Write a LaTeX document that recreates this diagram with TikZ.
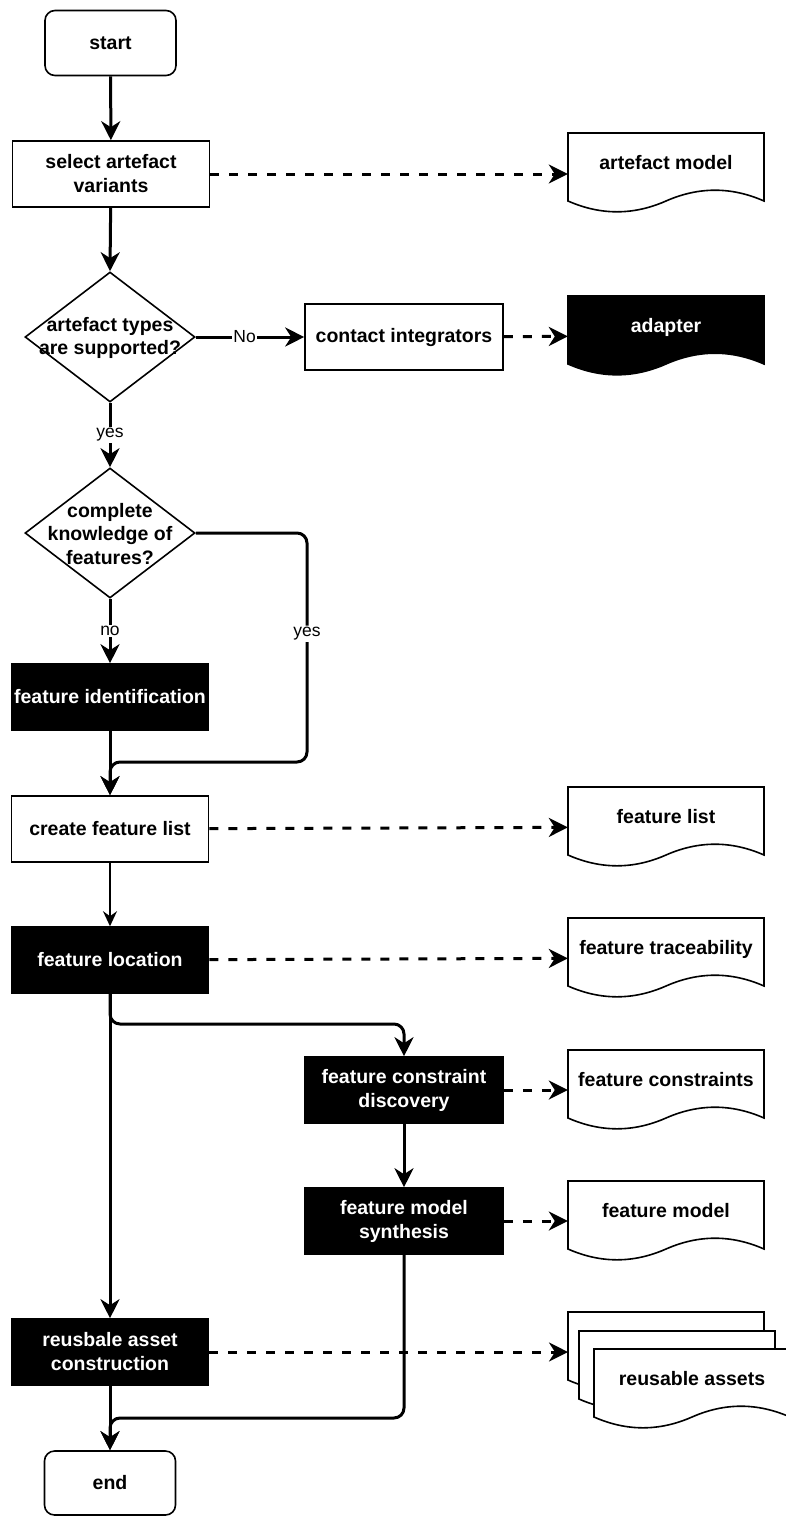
\documentclass[tikz,border=0pt]{standalone}
\usepackage{fontspec}
\setmainfont{Liberation Sans}
\usetikzlibrary{arrows.meta,shapes.geometric}

\newcommand\docshape[3]{%
  \path[#1] ({#2-98},{#3-40}) -- ({#2+98},{#3-40}) -- ({#2+98},{#3+28})
    .. controls ({#2+65.3},{#3+13.6}) and ({#2+32.7},{#3+13.6}) .. (#2,{#3+28})
    .. controls ({#2-32.7},{#3+42.4}) and ({#2-65.3},{#3+42.4}) .. ({#2-98},{#3+28}) -- cycle;}

\tikzset{
  bfont/.style={font=\fontsize{19.5}{24}\selectfont\bfseries},
  base/.style={draw, line width=1.6pt, minimum width=197pt, minimum height=66pt,
    inner sep=2pt, align=center, bfont},
  proc/.style={base, rectangle},
  dark/.style={base, rectangle, fill=black, text=white},
  term/.style={base, rectangle, rounded corners=10pt, minimum width=131pt, minimum height=65pt},
  decision/.style={diamond, draw, line width=1.6pt, minimum width=170pt,
    minimum height=130pt, inner sep=0pt},
  dtext/.style={align=center, inner sep=0pt, font=\fontsize{19.5}{23.5}\selectfont\bfseries},
  docnode/.style={rectangle, minimum width=196pt, minimum height=80pt, inner sep=0pt,
    align=center, bfont, text height=15pt, text depth=23pt},
  docline/.style={draw, line width=1.6pt, fill=white},
  flow/.style={line width=3pt, -{Stealth[length=19pt,width=19pt,inset=6pt]}},
  thinflow/.style={line width=1.5pt, -{Stealth[length=15pt,width=14pt,inset=5pt]}},
  dataflow/.style={flow, dash pattern=on 9pt off 10pt},
  lbl/.style={fill=white, inner sep=1.5pt, font=\fontsize{17.5}{20}\selectfont},
}

\begin{document}
\begin{tikzpicture}[x=1pt, y=-1pt]
\useasboundingbox (0,0) rectangle (786,1516);

% main column
\node[term] (start) at (110.5,43) {start};
\node[proc] (sel) at (111,174) {select artefact\\variants};
\node[decision] (d1) at (110,337) {};
\node[dtext] (d1t) at (110,338) {artefact types\\are supported?};
\node[proc, minimum width=198pt] (ci) at (404,337) {contact integrators};
\node[decision] (d2) at (110,533) {};
\node[dtext] (d2t) at (110,534) {complete\\knowledge of\\features?};
\node[dark] (fi) at (110,697) {feature identification};
\node[proc] (cfl) at (110,829) {create feature list};
\node[dark] (fle) at (110,960) {feature location};
\node[dark, minimum width=198pt] (fcd) at (404,1090) {feature constraint\\discovery};
\node[dark, minimum width=198pt] (fms) at (404,1221) {feature model\\synthesis};
\node[dark] (rac) at (110,1352) {reusbale asset\\construction};
\node[term, minimum height=64pt] (stop) at (110,1483) {end};

% documents
\docshape{docline}{666}{173}
\node[docnode] (am) at (666,173) {artefact model};
\docshape{docline, fill=black}{666}{336}
\node[docnode, text=white] (ad) at (666,336) {adapter};
\docshape{docline}{666}{827}
\node[docnode] (fl) at (666,827) {feature list};
\docshape{docline}{666}{958}
\node[docnode] (ftr) at (666,958) {feature traceability};
\docshape{docline}{666}{1090}
\node[docnode] (fc) at (666,1090) {feature constraints};
\docshape{docline}{666}{1221}
\node[docnode] (fm) at (666,1221) {feature model};
\docshape{docline}{666}{1352}
\docshape{docline}{677}{1371}
\docshape{docline}{692}{1389}
\node[docnode] (ra) at (692,1389) {reusable assets};
\coordinate (raw) at (568,1352);

% helper coordinates for bends
\coordinate (yb) at (307,762);
\coordinate (lb) at (110,1024);
\coordinate (eb) at (110,1418);

% connectors
\draw[flow] (start) -- (sel);
\draw[dataflow] (sel.east) -- (sel.east -| am.west);
\draw[flow] (sel) -- (d1.north);
\draw[flow] (d1.east) -- node[lbl, pos=0.45] {No} (ci.west);
\draw[dataflow] (ci) -- (ad);
\draw[flow] (d1.south) -- node[lbl] {yes} (d2.north);
\draw[flow] (d2.south) -- node[lbl] {no} (fi.north);
\draw[flow] (fi) -- (cfl);
\draw[flow, rounded corners=10pt] (d2.east) -| node[lbl, pos=0.72] {yes} (yb) -| (cfl.north);
\draw[dataflow] (cfl) -- (fl);
\draw[thinflow] (cfl) -- (fle);
\draw[dataflow] (fle) -- (ftr);
\draw[flow] (fle) -- (rac);
\draw[flow, rounded corners=10pt] (fle.south) -- (lb) -| (fcd.north);
\draw[dataflow] (fcd) -- (fc);
\draw[flow] (fcd) -- (fms);
\draw[dataflow] (fms) -- (fm);
\draw[flow, rounded corners=10pt] (fms.south) |- (eb) -- (stop.north);
\draw[dataflow] (rac.east) -- (raw);
\draw[flow] (rac) -- (stop);
\end{tikzpicture}
\end{document}
